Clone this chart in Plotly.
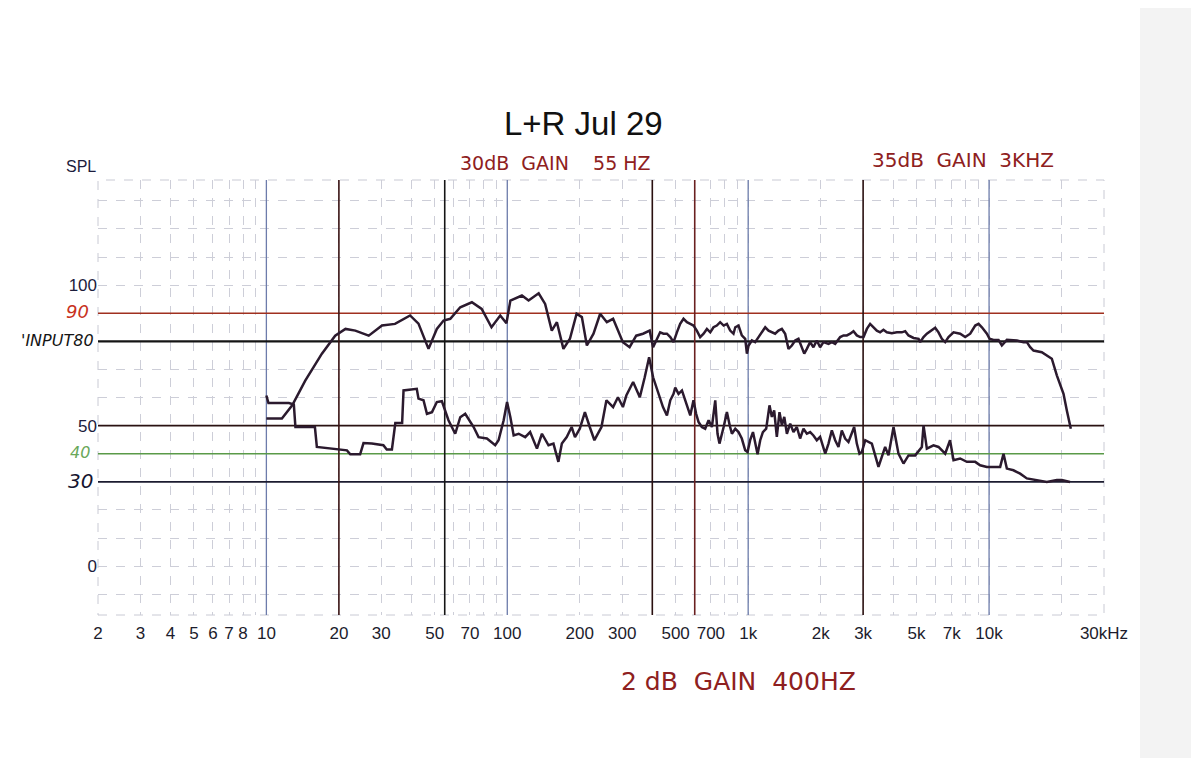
import plotly.graph_objects as go

# ---------------- data ----------------
freq_upper = [10, 11.6, 12.8, 14.5, 17.0, 19.3, 21.3, 23.4, 26.6, 30.2, 34.2, 39.5, 42.8, 47.1,
              51.0, 54.4, 58.0, 63.8, 71.3, 78.3, 86.0, 93.5, 99.2, 103, 115, 122.6, 135, 143.6,
              153, 160.7, 171, 182, 194, 204, 214, 228, 243, 259, 275, 302, 322, 343, 366, 390,
              403, 431, 445, 460, 475, 490, 506, 522, 539, 557, 575, 593, 612, 632, 653, 674, 696,
              718, 741, 765, 791, 816, 842, 869, 884, 912, 941, 972, 988, 1004, 1036, 1069, 1104,
              1140, 1177, 1215, 1254, 1294, 1336, 1380, 1424, 1470, 1518, 1567, 1617, 1670, 1709,
              1752, 1808, 1866, 1927, 1989, 2054, 2155, 2225, 2297, 2410, 2488, 2568, 2651, 2736,
              2825, 2917, 3013, 3110, 3209, 3313, 3420, 3530, 3644, 3763, 3948, 4142, 4345, 4485,
              4630, 4858, 5097, 5177, 5345, 5517, 5788, 5975, 6168, 6368, 6574, 6786, 7120, 7350,
              7587, 7960, 8351, 8761, 9045, 9337, 9795, 10046, 10433, 10946, 11300, 11854, 12436,
              13047, 13899, 14349, 14812, 15292, 16553, 17366, 18218, 19112, 19730, 20370, 21029,
              21845]
spl_upper = [52.5, 52.5, 57.2, 66, 75.6, 82, 84.4, 83.8, 82, 85.6, 86.2, 89.2, 86.3, 77.3,
             84.4, 87.4, 88, 92.1, 93.9, 91.5, 85, 89.2, 86.4, 94.5, 96.3, 94.5, 97.1, 93.3,
             83.8, 86.8, 77.3, 80.9, 89.8, 88.6, 78.5, 82.7, 89.8, 86.8, 88, 79.7, 77.9, 82, 82.7, 83.8,
             77.9, 83.2, 82.7, 82.7, 81.5, 79.7, 83.2, 86.2, 88.0, 86.8, 86.2, 85.6, 83.8, 81.5, 82.7,
             84.4, 83.2, 85.0, 85.6, 86.8, 85.6, 86.2, 83.8, 82.7, 85.0, 85.6, 82.1, 80.9, 75.6, 78.5,
             80.3, 79.7, 81.5, 83.2, 85.0, 83.8, 83.2, 82.7, 83.8, 84.4, 82.7, 77.3, 78.5, 80.3, 80.9,
             77.9, 75.6, 77.3, 79.7, 77.9, 80.3, 77.9, 79.7, 79.1, 79.7, 79.1, 81.5, 82.1, 82.1, 82.7,
             83.6, 82.1, 81.5, 81.5, 84.4, 86.2, 85.0, 83.8, 83.2, 84.1, 83.2, 82.9, 83.2, 83.2, 83.6,
             82.1, 81.2, 80.9, 79.7, 81.5, 82.7, 83.8, 84.8, 83.2, 80.9, 79.7, 81.5, 83.2, 82.9,
             82.7, 81.5, 82.7, 85.6, 86.2, 85.0, 82.7, 80.9, 80.5, 80.5, 78.5, 80.5, 80.3,
             80.3, 79.7, 79.7, 77.9, 76.7, 76.1, 75.0, 73.8, 67.9, 64.9, 61.3, 55.4,
             48.9]

freq_lower = [10, 10.2, 12.4, 13.0, 13.2, 15.9, 16.2, 19.3, 21.6, 22.3, 24.5, 25.3, 27.4, 30.6,
              31.6, 33.2, 34.3, 36.6, 37.1, 42.1, 42.8, 44.9, 46.4, 48.7, 51.0, 53.5, 57.0, 60.8,
              63.8, 66.9, 72.5, 76, 82.3, 89.1, 92, 96.6, 99.8, 103, 106.3, 111.5, 118.7, 124.4,
              132.8, 139.3, 148.3, 155.5, 163, 168.5, 176.5, 185, 191, 200, 210, 220, 230, 246,
              258, 275, 288, 302, 312, 333, 355, 372, 388, 403, 423,
              431, 443, 460, 475, 490, 498, 514, 531, 548, 566, 575, 593, 608, 622, 642, 663, 685,
              707, 730, 746, 760, 791, 816, 838, 856, 884, 912, 941, 972, 994, 1019, 1047, 1069,
              1094, 1122, 1151, 1188, 1226, 1254, 1282, 1315, 1349, 1380, 1412, 1448, 1494, 1542,
              1592, 1643, 1697, 1752, 1808, 1866, 1927, 1989, 2089, 2155, 2225, 2297, 2371, 2447,
              2527, 2608, 2692, 2754, 2825, 2898,
              2963, 3063, 3261, 3474, 3704, 3824, 4012, 4207, 4413, 4630, 4935, 5260, 5345, 5517,
              5880, 6168, 6574, 6887, 7120, 7587, 8087, 8761, 9183, 9795, 10433, 11120, 11481,
              11854, 12630, 13460, 14349, 15780, 17366, 19112, 20045, 21680]
spl_lower = [60.7, 58, 58, 57.5, 49.5, 49.5, 42.4, 41.8, 41.2, 39.8, 39.8, 43.8, 43.6, 43,
             41.5, 41.5, 50.9, 50.9, 62.5, 63.1, 59.6, 59, 54.2, 54.8, 58.4, 58.7, 51.9, 47.1,
             53, 54.2, 49.5, 45.9, 45.4, 43, 44.8, 51.9, 58.4, 53, 46.5, 47.1, 45.9, 47.7,
             41.8, 47.1, 43, 43.6, 37.1, 43.6, 45.9, 49.5, 45.9, 48.9, 54.8, 49.5, 44.8, 49.5,
             59, 56.6, 60.1, 56.6, 60.7, 65.5, 60.1, 67.2, 74.3, 67.2, 61.9,
             60.2, 56.6, 53.6, 59.0, 61.3, 63.5, 61.3, 62.5, 59.0, 55.4, 53.6, 59.0, 54.2, 51.3, 49.5,
             48.9, 51.9, 49.5, 59.0, 47.1, 43.6, 49.5, 54.8, 50.1, 47.1, 48.9, 47.7, 45.4, 41.2, 40.6,
             44.8, 47.7, 43.6, 39.8, 44.8, 47.7, 48.9, 57.2, 53.1, 55.4, 46.0, 54.8, 50.1, 53.1, 47.1,
             50.7, 47.7, 49.5, 45.4, 48.9, 47.1, 47.7, 46.5, 44.8, 46.0, 40.0, 43.6, 48.3, 44.8, 42.4,
             48.3, 45.4, 44.2, 47.7, 49.5, 43.6, 40.0,
             40.6, 44.8, 43.6, 35.3, 42.4, 39.4, 49.5, 40.0, 36.5, 39.4, 39.4, 42.4, 50.1, 41.8,
             43.0, 42.4, 40.0, 44.8, 37.7, 38.3, 37.1, 37.1, 35.9, 35.3, 35.3, 35.3, 40.0,
             34.7, 34.1, 32.9, 31.2, 30.6, 29.9, 30.6, 30.6, 29.9]

# x grid / tick labels
x_grid = [2, 3, 4, 5, 6, 7, 8, 9, 10, 20, 30, 40, 50, 60, 70, 80, 90, 100, 200, 300, 400, 500,
          600, 700, 800, 900, 1000, 2000, 3000, 4000, 5000, 6000, 7000, 8000, 9000, 10000, 20000, 30000]
x_labels = ["2", "3", "4", "5", "6", "7", "8", "", "10", "20", "30", "", "50", "", "70", "", "",
            "100", "200", "300", "", "500", "", "700", "", "", "1k", "2k", "3k", "", "5k", "", "7k",
            "", "", "10k", "", "30kHz"]
x_decades = [10, 100, 1000, 10000]
x_min, x_max = 2, 30000

y_grid = [-10, 0, 10, 20, 30, 40, 50, 60, 70, 80, 90, 100, 110, 120, 130]
y_labels = ["", "0", "", "", "", "", "50", "", "", "", "", "100", "", "", ""]
y_min, y_max = -17.4, 137.4

# hand-drawn reference levels and marker frequencies
ref_levels = [90, 80, 50, 40, 30]
ref_colors = ["#a0301f", "#151515", "#2a1212", "#5a9a48", "#1c1c30"]
ref_widths = [1.6, 2.2, 1.8, 1.4, 1.8]
marker_freqs = [20, 55, 400, 600, 3000]
marker_colors = ["#3a1414", "#151515", "#2a1010", "#6a2020", "#2a1010"]

# ---------------- figure ----------------
OFF = 8  # page body margin
W, H = 1199 - 2 * OFF, 766 - 2 * OFF
L, R, T, B = 98 - OFF, 1104 - OFF, 180 - OFF, 615 - OFF


def px(x):
    return (x - OFF - L) / (R - L)


def py(y):
    return (B - (y - OFF)) / (B - T)


fig = go.Figure()


def vline(f, color, width):
    fig.add_trace(go.Scatter(x=[f, f], y=[y_min, y_max], mode="lines", hoverinfo="skip",
                             line=dict(color=color, width=width), showlegend=False))


def hline(v, color, width):
    fig.add_trace(go.Scatter(x=[x_min, x_max], y=[v, v], mode="lines", hoverinfo="skip",
                             line=dict(color=color, width=width), showlegend=False))


for f in x_decades:
    vline(f, "#6d7cab", 1.3)
for lv, c, w in zip(ref_levels, ref_colors, ref_widths):
    hline(lv, c, w)
for f, c in zip(marker_freqs, marker_colors):
    vline(f, c, 1.6)

line_col = "#2b1a2e"
fig.add_trace(go.Scatter(x=freq_upper, y=spl_upper, mode="lines",
                         line=dict(color=line_col, width=2.5), showlegend=False))
fig.add_trace(go.Scatter(x=freq_lower, y=spl_lower, mode="lines",
                         line=dict(color=line_col, width=2.5), showlegend=False))

shapes = [
    # page edge of the scan
    dict(type="rect", xref="paper", yref="paper", x0=px(1140), x1=px(1199),
         y0=py(766), y1=py(0), line=dict(width=0), fillcolor="#f3f3f3", layer="below"),
    # dashed frame
    dict(type="rect", xref="paper", yref="paper", x0=0, x1=1, y0=0, y1=1,
         line=dict(color="#c9cad4", width=1, dash="dash"), layer="below"),
]

hand_red = "#8e2020"
hand_font = "DejaVu Sans"


def note(text, x, y, size, color, family=hand_font, xanchor="center", style="normal"):
    return dict(text=text, x=px(x), y=py(y), xref="paper", yref="paper", showarrow=False,
                xanchor=xanchor, yanchor="middle",
                font=dict(family=family, size=size, color=color, style=style))


annotations = [
    note("L+R Jul 29", 583, 124, 33, "#111111", family="Liberation Sans, Arial"),
    note("SPL", 81, 166, 16, "#1c1c3c", family="Liberation Sans, Arial"),
    note("30dB  GAIN    55 HZ", 555, 163, 19, hand_red),
    note("35dB  GAIN  3KHZ", 963, 160, 20, hand_red),
    note("2 dB  GAIN  400HZ", 738, 681, 25, hand_red),
    note("90", 91, 311, 18, "#c8321e", xanchor="right", style="italic"),
    note("'INPUT80", 96, 340, 16, "#151515", xanchor="right", style="italic"),
    note("40", 92, 452, 16, "#6aa85a", xanchor="right", style="italic"),
    note("30", 95, 481, 20, "#151530", xanchor="right", style="italic"),
]

fig.update_layout(
    width=W, height=H,
    margin=dict(l=L, r=W - R, t=T, b=H - B, pad=0),
    paper_bgcolor="#ffffff", plot_bgcolor="#ffffff",
    shapes=shapes, annotations=annotations, showlegend=False,
    xaxis=dict(type="log", range=[0.30103, 4.4771], tickmode="array", tickvals=x_grid,
               ticktext=x_labels, showgrid=True, gridcolor="#cdced8", griddash="dash",
               gridwidth=1, zeroline=False, showline=False, ticks="", ticklen=0,
               ticklabelstandoff=6,
               tickfont=dict(family="Liberation Sans, Arial", size=17, color="#1c1c2c")),
    yaxis=dict(range=[y_min, y_max], tickmode="array", tickvals=y_grid, ticktext=y_labels,
               showgrid=True, gridcolor="#cdced8", griddash="dash", gridwidth=1,
               zeroline=False, showline=False, ticks="", ticklen=0,
               tickfont=dict(family="Liberation Sans, Arial", size=17, color="#1c1c3c")),
)

fig.write_html("out.html")
